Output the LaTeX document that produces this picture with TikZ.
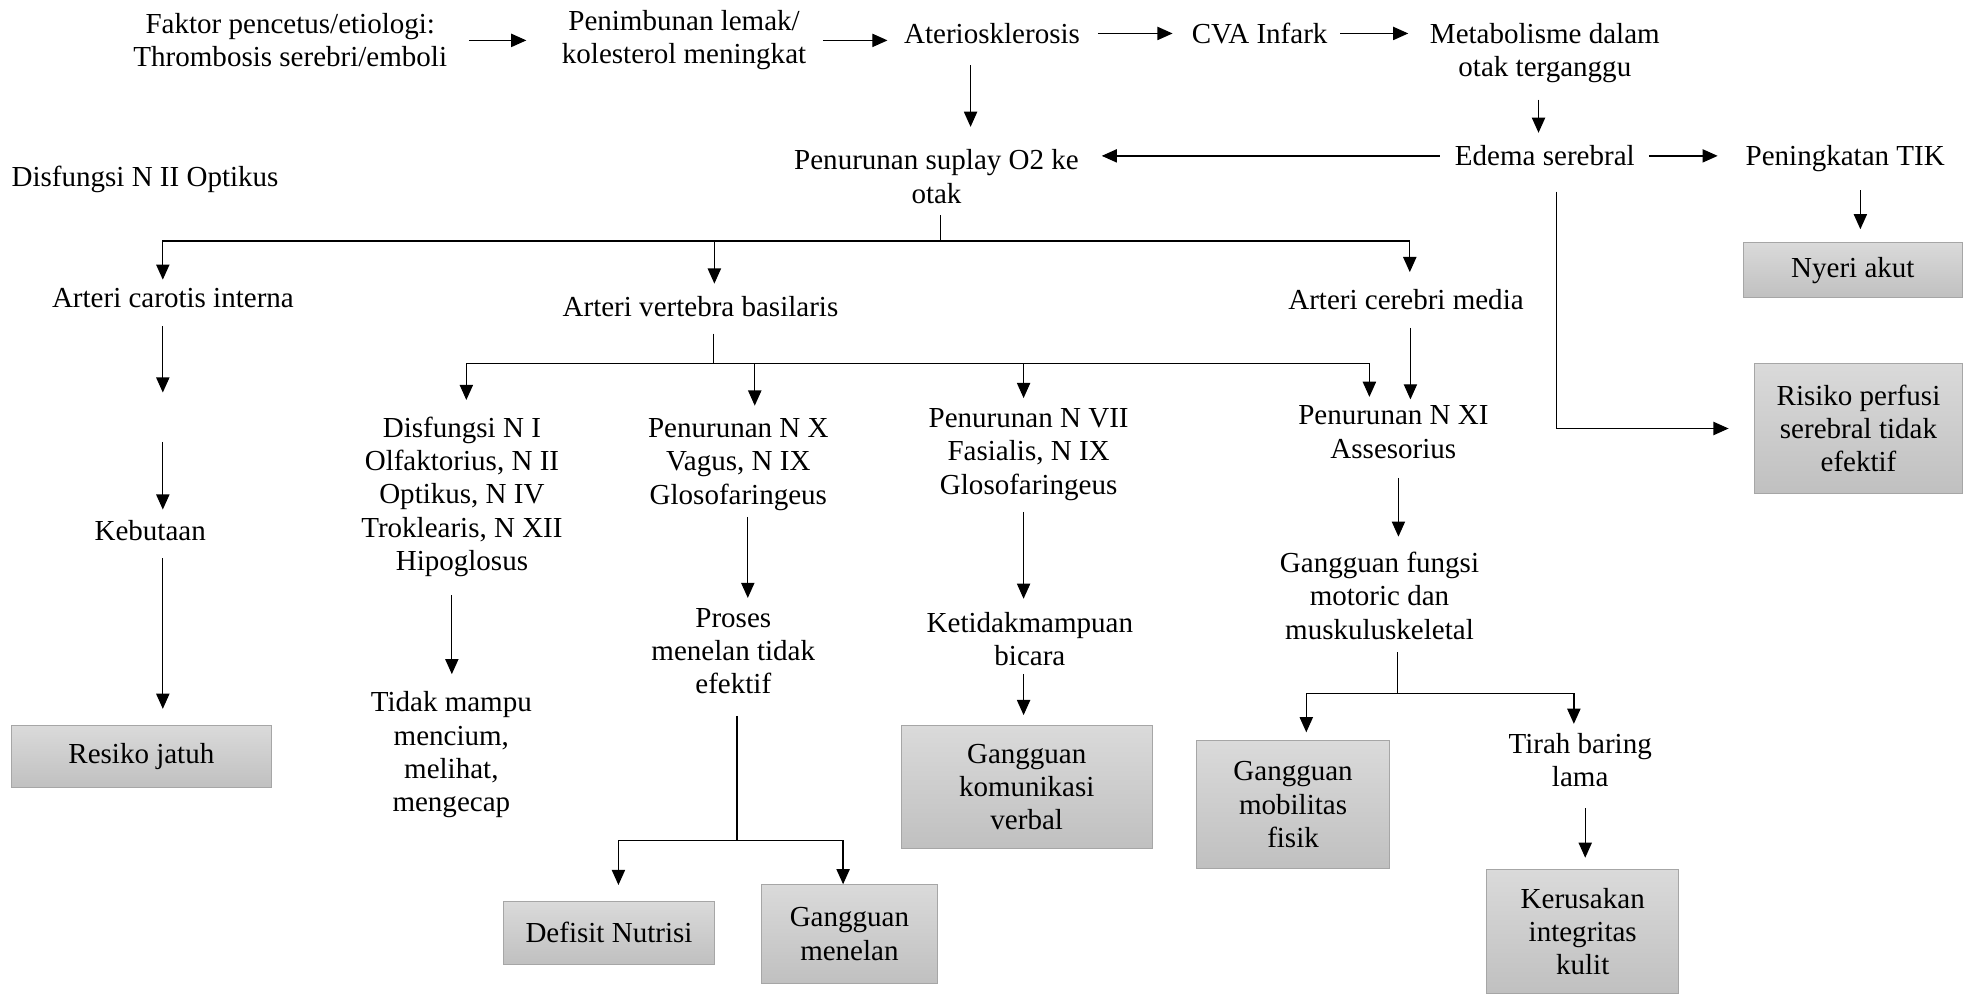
\documentclass[tikz,border=0pt]{standalone}
\usepackage{fontspec}
\setmainfont{Liberation Serif}
\usetikzlibrary{arrows.meta}
\definecolor{boxtop}{HTML}{DADADA}
\definecolor{boxbot}{HTML}{C0C0C0}
\definecolor{boxline}{HTML}{A6A6A6}
\begin{document}
\begin{tikzpicture}[x=1pt,y=-1pt,font=\fontsize{23}{26.4}\selectfont,
  txt/.style={align=center,inner sep=0pt},
  diag/.style 2 args={draw=boxline,line width=0.8pt,top color=boxtop,bottom color=boxbot,
    align=center,inner sep=0pt,minimum width=#1pt,minimum height=#2pt},
  arr/.style={-{Triangle[length=12pt,width=10.5pt]},line width=1pt},
  ln/.style={line width=1pt}]
\useasboundingbox (0,0) rectangle (1568,788);

\node[txt] (faktor) at (230,32) {Faktor pencetus/etiologi:\\Thrombosis serebri/emboli};
\node[txt] (timbun) at (542,32) {Penimbunan lemak/\\kolesterol meningkat};
\node[txt] (ater) at (786,26.5) {Ateriosklerosis};
\node[txt] (cva) at (998,26.5) {CVA Infark};
\node[txt] (metab) at (1224,42) {Metabolisme dalam\\otak terganggu};
\node[txt] (suplay) at (742,140) {Penurunan suplay O2 ke\\otak};
\node[txt] (edema) at (1224,123.5) {Edema serebral};
\node[txt] (tik) at (1462,126) {Peningkatan TIK};
\node[txt,anchor=west] (optikus) at (9,142) {Disfungsi N II Optikus};
\node[diag={174}{44}] (nyeri) at (1468,214) {Nyeri akut};
\node[diag={165}{103}] (risiko) at (1472.5,339.5) {Risiko perfusi\\serebral tidak\\efektif};

\node[txt] (carotis) at (137,236.5) {Arteri carotis interna};
\node[txt] (vertebra) at (555,243) {Arteri vertebra basilaris};
\node[txt] (media) at (1114,237.5) {Arteri cerebri media};
\node[txt] (kebutaan) at (119,420) {Kebutaan};
\node[diag={206}{49}] (jatuh) at (112,599.5) {Resiko jatuh};

\node[txt] (dis1) at (366,393.5) {Disfungsi N I\\Olfaktorius, N II\\Optikus, N IV\\Troklearis, N XII\\Hipoglosus};
\node[txt] (nx) at (585,368) {Penurunan N X\\Vagus, N IX\\Glosofaringeus};
\node[txt] (nvii) at (815,360) {Penurunan N VII\\Fasialis, N IX\\Glosofaringeus};
\node[txt] (nxi) at (1104,342.5) {Penurunan N XI\\Assesorius};

\node[txt] (tidak) at (357.6,598) {Tidak mampu\\mencium,\\melihat,\\mengecap};
\node[txt] (proses) at (581,516) {Proses\\menelan tidak\\efektif};
\node[txt] (ketidak) at (816,506.5) {Ketidakmampuan\\bicara};
\node[txt] (gfungsi) at (1093,472) {Gangguan fungsi\\motoric dan\\muskuluskeletal};
\node[txt] (tirah) at (1252,602) {Tirah baring\\lama};

\node[diag={167}{50}] (defisit) at (482.5,739) {Defisit Nutrisi};
\node[diag={140}{78}] (menelan) at (673,740) {Gangguan\\menelan};
\node[diag={199}{97}] (kom) at (813.5,623.5) {Gangguan\\komunikasi\\verbal};
\node[diag={153}{101}] (mob) at (1024.5,637.5) {Gangguan\\mobilitas\\fisik};
\node[diag={152}{98}] (kulit) at (1254,738) {Kerusakan\\integritas\\kulit};

\coordinate (b1) at (745,191);
\coordinate (b2) at (565.5,288);
\coordinate (b3) at (1107,549.6);
\coordinate (b4) at (584,666);
\coordinate (c1) at (129,330);

\draw[arr,shorten <=17pt,shorten >=28pt] (faktor) -- (timbun);
\draw[arr,shorten <=13pt,shorten >=13pt] (timbun) -- (timbun -| ater.west);
\draw[arr,shorten <=14pt,shorten >=15pt] (ater) -- (cva);
\draw[arr,shorten <=10pt,shorten >=17pt] (cva) -- (cva -| metab.west);
\draw[arr,shorten <=17pt,shorten >=18pt] ([xshift=-17pt]ater.south) -- ([xshift=-17pt]ater.south |- suplay.north);
\draw[arr,shorten <=13pt,shorten >=10pt] ([xshift=-5pt]metab.south) -- ([xshift=-5pt]metab.south |- edema.north);
\draw[arr,shorten <=12pt,shorten >=18pt] (edema) -- (edema -| suplay.east);
\draw[arr,shorten <=11pt,shorten >=22pt] (edema) -- (edema -| tik.west);
\draw[arr,shorten <=14pt,shorten >=10pt] ([xshift=12pt]tik.south) -- ([xshift=12pt]tik.south |- nyeri.north);
\draw[arr,shorten <=20pt,shorten >=20pt] ([xshift=9pt]edema.south) |- (risiko.west);

\draw[ln,shorten <=9pt] ([xshift=3pt]suplay.south) -- (b1);
\draw[arr,shorten >=7pt] (b1) -| ([xshift=-8pt]carotis.north);
\draw[arr,shorten >=10pt] (b1) -| ([xshift=11pt]vertebra.north);
\draw[arr,shorten >=13.6pt] (b1) -| ([xshift=3pt]media.north);

\draw[arr,shorten <=14pt,shorten >=19pt] ([xshift=-8pt]carotis.south) -- (c1);
\draw[arr,shorten <=20pt,shorten >=8pt] (c1) -- (c1 |- kebutaan.north);
\draw[arr,shorten <=14pt,shorten >=13pt] ([xshift=10pt]kebutaan.south) -- ([xshift=10pt]kebutaan.south |- jatuh.north);

\draw[ln,shorten <=13pt] ([xshift=10.5pt]vertebra.south) -- (b2);
\draw[arr,shorten >=13pt] (b2) -| ([xshift=3.5pt]dis1.north);
\draw[arr,shorten >=10pt] (b2) -| ([xshift=13pt]nx.north);
\draw[arr,shorten >=8pt] (b2) -| ([xshift=-4pt]nvii.north);
\draw[arr,shorten >=7pt] (b2) -| ([xshift=-19pt]nxi.north);
\draw[arr,shorten <=14pt,shorten >=5pt] ([xshift=3.5pt]media.south) -- ([xshift=3.5pt]media.south |- nxi.north);

\draw[arr,shorten <=14.5pt,shorten >=13.6pt] ([xshift=-8pt]dis1.south) -- ([xshift=-8pt]dis1.south |- tidak.north);
\draw[arr,shorten <=5pt,shorten >=8pt] ([xshift=7.5pt]nx.south) -- ([xshift=7.5pt]nx.south |- proses.north);
\draw[arr,shorten <=9pt,shorten >=10.6pt] ([xshift=-4pt]nvii.south) -- ([xshift=-4pt]nvii.south |- ketidak.north);
\draw[arr,shorten <=6pt,shorten >=8pt] ([xshift=-5pt]ketidak.south) -- ([xshift=-5pt]ketidak.south |- kom.north);
\draw[arr,shorten <=15pt,shorten >=12pt] ([xshift=4pt]nxi.south) -- ([xshift=4pt]nxi.south |- gfungsi.north);

\draw[ln,shorten <=10pt] ([xshift=14pt]gfungsi.south) -- (b3);
\draw[arr,shorten >=6.4pt] (b3) -| ([xshift=10.5pt]mob.north);
\draw[arr,shorten >=7pt] (b3) -| ([xshift=-5pt]tirah.north);
\draw[arr,shorten <=17pt,shorten >=9pt] ([xshift=4pt]tirah.south) -- ([xshift=4pt]tirah.south |- kulit.north);

\draw[ln,shorten <=17pt] ([xshift=3pt]proses.south) -- (b4);
\draw[arr,shorten >=12.4pt] (b4) -| ([xshift=7.5pt]defisit.north);
\draw[arr] (b4) -| ([xshift=-5pt]menelan.north);
\end{tikzpicture}
\end{document}
